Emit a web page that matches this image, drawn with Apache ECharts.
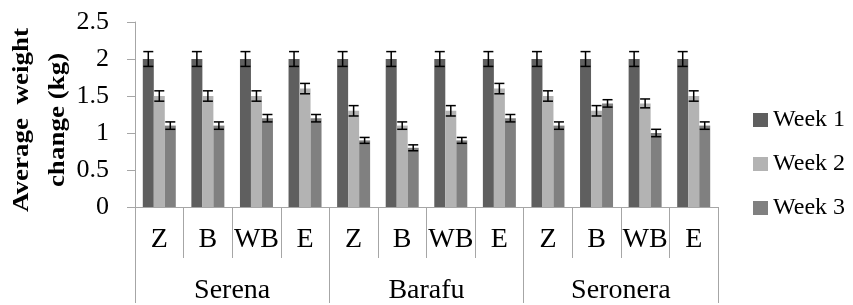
<!DOCTYPE html>
<html>
<head>
<meta charset="utf-8">
<script src="https://cdn.jsdelivr.net/npm/echarts@6/dist/echarts.min.js"></script>
<style>
  html, body { margin: 0; padding: 0; background: #fff; }
  #chart { width: 853px; height: 305px; }
</style>
</head>
<body>
<div id="chart"></div>
<script>
// ---- data ----
const categories = ['Z', 'B', 'WB', 'E', 'Z', 'B', 'WB', 'E', 'Z', 'B', 'WB', 'E'];
const sites = ['Serena', 'Barafu', 'Seronera'];
const weekNames = ['Week 1', 'Week 2', 'Week 3'];

const week1 = [2.0, 2.0, 2.0, 2.0, 2.0, 2.0, 2.0, 2.0, 2.0, 2.0, 2.0, 2.0];
const week2 = [1.5, 1.5, 1.5, 1.6, 1.3, 1.1, 1.3, 1.6, 1.5, 1.3, 1.4, 1.5];
const week3 = [1.1, 1.1, 1.2, 1.2, 0.9, 0.8, 0.9, 1.2, 1.1, 1.4, 1.0, 1.1];

const err1 = [0.1, 0.1, 0.1, 0.1, 0.1, 0.1, 0.1, 0.1, 0.1, 0.1, 0.1, 0.1];
const err2 = [0.07, 0.07, 0.07, 0.07, 0.07, 0.05, 0.07, 0.07, 0.07, 0.07, 0.06, 0.07];
const err3 = [0.05, 0.05, 0.05, 0.05, 0.04, 0.04, 0.04, 0.05, 0.05, 0.05, 0.05, 0.05];

const weekColors = ['#5f5f5f', '#b3b3b3', '#808080'];
const serif = "'Liberation Serif', 'Times New Roman', serif";
const axisGrey = '#a6a6a6';
const BAR_W = 11;

const allValues = [week1, week2, week3];
const allErrors = [err1, err2, err3];

// error bars drawn on top of each bar (offset inside the group of 3)
function errorSeries(w) {
  return {
    name: 'err' + w,
    type: 'custom',
    xAxisIndex: 0,
    z: 10,
    silent: true,
    data: allValues[w].map((v, i) => [i, v, allErrors[w][i]]),
    renderItem: function (params, api) {
      const idx = api.value(0);
      const v = api.value(1);
      const e = api.value(2);
      const top = api.coord([idx, v + e]);
      const bot = api.coord([idx, v - e]);
      const x = top[0] + (w - 1) * BAR_W;
      const hw = 5;
      const st = { stroke: '#000', lineWidth: 1.5 };
      return {
        type: 'group',
        children: [
          { type: 'line', shape: { x1: x, y1: top[1], x2: x, y2: bot[1] }, style: st },
          { type: 'line', shape: { x1: x - hw, y1: top[1], x2: x + hw, y2: top[1] }, style: st },
          { type: 'line', shape: { x1: x - hw, y1: bot[1], x2: x + hw, y2: bot[1] }, style: st }
        ]
      };
    }
  };
}

const barSeries = weekNames.map((name, w) => ({
  name: name,
  type: 'bar',
  xAxisIndex: 0,
  barWidth: BAR_W,
  barGap: '0%',
  data: allValues[w],
  itemStyle: { color: weekColors[w] }
}));

const chart = echarts.init(document.getElementById('chart'));
chart.setOption({
  animation: false,
  backgroundColor: '#fff',
  grid: { left: 135, right: 135, top: 22, bottom: 96 },
  legend: {
    data: weekNames,
    orient: 'vertical',
    left: 748,
    top: 103,
    itemWidth: 15,
    itemHeight: 14,
    itemGap: 20,
    icon: 'rect',
    textStyle: { fontFamily: serif, fontSize: 24, color: '#000' }
  },
  graphic: [{
    type: 'text',
    x: 40,
    y: 120,
    rotation: Math.PI / 2,
    scaleY: 0.82,
    style: {
      text: 'Average  weight\nchange (kg)',
      font: 'bold 27px ' + serif,
      fill: '#000',
      align: 'center',
      verticalAlign: 'middle',
      lineHeight: 44
    }
  }],
  xAxis: [{
    type: 'category',
    position: 'bottom',
    data: categories,
    axisLine: { show: true, onZero: false, lineStyle: { color: axisGrey } },
    axisTick: { show: true, alignWithLabel: false, interval: 0, length: 51, lineStyle: { color: axisGrey } },
    axisLabel: { interval: 0, margin: 19, fontFamily: serif, fontSize: 28, color: '#000' }
  }, {
    type: 'category',
    position: 'bottom',
    data: sites,
    axisLine: { show: false, onZero: false },
    axisTick: { show: true, alignWithLabel: false, interval: 0, length: 96, lineStyle: { color: axisGrey } },
    axisLabel: { interval: 0, margin: 70, fontFamily: serif, fontSize: 28, color: '#000' }
  }],
  yAxis: {
    type: 'value',
    min: 0,
    max: 2.5,
    interval: 0.5,
    axisLine: { show: true, lineStyle: { color: axisGrey } },
    axisTick: { show: true, length: 8, lineStyle: { color: axisGrey } },
    splitLine: { show: false },
    axisLabel: { margin: 26, fontFamily: serif, fontSize: 26, color: '#000' }
  },
  series: barSeries.concat([errorSeries(0), errorSeries(1), errorSeries(2)])
});
</script>
</body>
</html>
